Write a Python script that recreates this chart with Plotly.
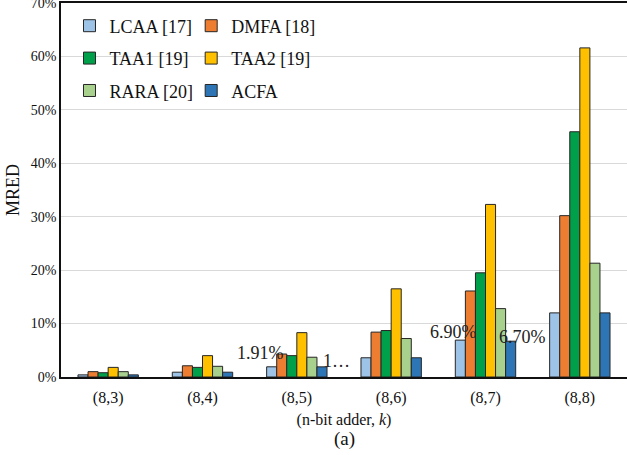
import plotly.graph_objects as go

categories = ["(8,3)", "(8,4)", "(8,5)", "(8,6)", "(8,7)", "(8,8)"]
series_names = ["LCAA [17]", "DMFA [18]", "TAA1 [19]", "TAA2 [19]", "RARA [20]", "ACFA"]
LCAA = [0.4, 0.9, 1.91, 3.6, 6.9, 12.0]
DMFA = [1.0, 2.1, 4.3, 8.4, 16.1, 30.2]
TAA1 = [0.8, 1.8, 4.0, 8.7, 19.5, 45.9]
TAA2 = [1.8, 4.0, 8.3, 16.5, 32.3, 61.6]
RARA = [1.0, 2.0, 3.7, 7.2, 12.8, 21.3]
ACFA = [0.4, 0.9, 1.9, 3.6, 6.7, 12.0]
y_ticks = [0, 10, 20, 30, 40, 50, 60, 70]
y_tick_labels = ["0%", "10%", "20%", "30%", "40%", "50%", "60%", "70%"]

series = [LCAA, DMFA, TAA1, TAA2, RARA, ACFA]
colors = ["#9DC3E6", "#ED7D31", "#00A04B", "#FFC000", "#A9D18E", "#2E75B6"]
legends = ["legend", "legend2", "legend", "legend2", "legend", "legend2"]

FONT = "Liberation Serif, Times New Roman, serif"

fig = go.Figure()
for i, (name, vals) in enumerate(zip(series_names, series)):
    fig.add_trace(go.Bar(
        x=categories, y=vals, name=name,
        marker=dict(color=colors[i], line=dict(color="#262626", width=1)),
        legend=legends[i], legendgroup=name,
    ))

ann_font = dict(family=FONT, size=18, color="#222222")
annotations = [
    dict(x=categories[2], y=LCAA[2], text="1.91%", xshift=-36, yshift=14),
    dict(x=categories[2], y=ACFA[2], text="1…", xshift=40, yshift=6),
    dict(x=categories[4], y=LCAA[4], text="6.90%", xshift=-32, yshift=8),
    dict(x=categories[4], y=ACFA[4], text="6.70%", xshift=37, yshift=4),
]
for a in annotations:
    fig.add_annotation(xref="x", yref="y", showarrow=False, font=ann_font,
                       xanchor="center", yanchor="middle", **a)

fig.add_annotation(xref="paper", yref="paper", x=0.5, y=-0.131, text="(a)",
                   showarrow=False, font=dict(family=FONT, size=19, color="#111"),
                   xanchor="center", yanchor="top")

fig.update_layout(
    width=627, height=455,
    margin=dict(l=61, r=0, t=3, b=78),
    paper_bgcolor="white", plot_bgcolor="white",
    barmode="group", bargap=0.36, bargroupgap=0,
    font=dict(family=FONT, color="#111"),
    legend=dict(x=0.015, y=0.988, xanchor="left", yanchor="top",
                bgcolor="rgba(0,0,0,0)", font=dict(family=FONT, size=18),
                tracegroupgap=6, orientation="v"),
    legend2=dict(x=0.23, y=0.988, xanchor="left", yanchor="top",
                 bgcolor="rgba(0,0,0,0)", font=dict(family=FONT, size=18),
                 tracegroupgap=6, orientation="v"),
    showlegend=True,
)
fig.update_xaxes(
    automargin=False,
    showline=True, linecolor="#111", linewidth=1.5, mirror=True,
    tickfont=dict(family=FONT, size=16), ticks="", ticklabelstandoff=5,
    title=dict(text="(n-bit adder, <i>k</i>)", font=dict(family=FONT, size=16), standoff=8),
)
fig.update_yaxes(
    automargin=False,
    range=[0, 70], tickmode="array", tickvals=y_ticks, ticktext=y_tick_labels,
    ticklabeloverflow="allow",
    showline=True, linecolor="#111", linewidth=1.5, mirror=True,
    showgrid=True, gridcolor="#D9D9D9", gridwidth=1,
    tickfont=dict(family=FONT, size=14), ticks="", zeroline=False,
    title=dict(text="MRED", font=dict(family=FONT, size=18), standoff=6),
)

fig.write_html("out.html", config={"displayModeBar": False},
               post_script="document.body.style.margin='0';document.body.style.padding='0';")
